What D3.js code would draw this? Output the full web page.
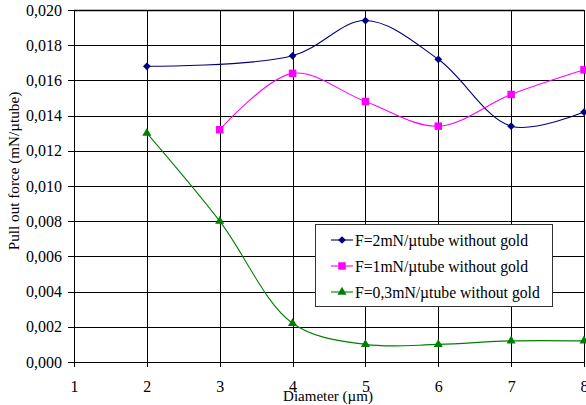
<!DOCTYPE html>
<html>
<head>
<meta charset="utf-8">
<script src="https://cdn.jsdelivr.net/npm/d3@7"></script>
<style>
    body { margin: 0; background: #fff; }
    .grid line { stroke: #000; stroke-width: 1; shape-rendering: crispEdges; }
    .axis path, .axis line { stroke: #000; shape-rendering: crispEdges; }
</style>
</head>
<body>
<div id="chart"></div>
<script>
// data
let diameters = [1, 2, 3, 4, 5, 6, 7, 8];
let yTicks = [0, 0.002, 0.004, 0.006, 0.008, 0.010, 0.012, 0.014, 0.016, 0.018, 0.020];

let blueX = [2, 4, 5, 6, 7, 8];
let blueY = [0.0168, 0.0174, 0.0194, 0.0172, 0.0134, 0.0142];

let pinkX = [3, 4, 5, 6, 7, 8];
let pinkY = [0.0132, 0.0164, 0.0148, 0.0134, 0.0152, 0.0166];

let greenX = [2, 3, 4, 5, 6, 7, 8];
let greenY = [0.0130, 0.0080, 0.0022, 0.0010, 0.0010, 0.0012, 0.0012];

let seriesNames = ["F=2mN/\u00b5tube without gold", "F=1mN/\u00b5tube without gold", "F=0,3mN/\u00b5tube without gold"];

// rotate square 45deg for the Excel-like diamond
let series = [
    { name: seriesNames[0], color: "#000080", shape: d3.symbolSquare, size: 30, rot: 45, xs: blueX, ys: blueY },
    { name: seriesNames[1], color: "#FF00FF", shape: d3.symbolSquare, size: 56, rot: 0, xs: pinkX, ys: pinkY },
    { name: seriesNames[2], color: "#008000", shape: d3.symbolTriangle, size: 36, rot: 0, xs: greenX, ys: greenY }
];

const FONT = "'Liberation Serif', 'Times New Roman', serif";

let margin = { top: 10, right: 2, bottom: 43, left: 74 };
let width = 586 - margin.left - margin.right;
let height = 405 - margin.top - margin.bottom;

let svg = d3.select("#chart").append("svg")
    .attr("width", 586)
    .attr("height", 405)
    .style("font-family", FONT);

let g = svg.append("g")
    .attr("transform", "translate(" + margin.left + "," + margin.top + ")");

let x = d3.scaleLinear().domain([1, 8]).range([0, width]);
let y = d3.scaleLinear().domain([0, 0.02]).range([height, 0]);

let fmt = d => d3.format(".3f")(d).replace(".", ",");

// gridlines
let grid = g.append("g").attr("class", "grid");
grid.selectAll(".h").data(yTicks).enter().append("line")
    .attr("x1", 0).attr("x2", width)
    .attr("y1", d => Math.round(y(d)) + 0.5).attr("y2", d => Math.round(y(d)) + 0.5);
grid.selectAll(".v").data(diameters).enter().append("line")
    .attr("y1", 0).attr("y2", height)
    .attr("x1", d => Math.round(x(d)) + 0.5).attr("x2", d => Math.round(x(d)) + 0.5);

// axes
let yAxis = d3.axisLeft(y).tickValues(yTicks).tickFormat(fmt).tickSize(6).tickPadding(6);
let xAxis = d3.axisBottom(x).tickValues(diameters).tickFormat(d3.format("d")).tickSize(5).tickPadding(14);

g.append("g").attr("class", "y-axis axis").call(yAxis)
    .attr("font-family", null)
    .call(a => a.select(".domain").remove())
    .selectAll("text").style("font-family", FONT).style("font-size", "16px").attr("fill", "#000");
g.append("g").attr("class", "x-axis axis")
    .attr("transform", "translate(0," + height + ")")
    .call(xAxis)
    .attr("font-family", null)
    .call(a => a.select(".domain").remove())
    .selectAll("text").style("font-family", FONT).style("font-size", "16px").attr("fill", "#000");

// axis titles
svg.append("text")
    .attr("transform", "translate(19,171) rotate(-90)")
    .attr("text-anchor", "middle")
    .style("font-family", FONT)
    .style("font-size", "15.2px")
    .text("Pull out force (mN/\u00b5tube)");

svg.append("text")
    .attr("x", 328).attr("y", 401)
    .attr("text-anchor", "middle")
    .style("font-family", FONT)
    .style("font-size", "15px")
    .text("Diameter (\u00b5m)");

// smoothed lines (Excel style)
let line = d3.line()
    .x(d => x(d[0]))
    .y(d => y(d[1]))
    .curve(d3.curveCatmullRom.alpha(0.5));

series.forEach(s => {
    let pts = s.xs.map((v, i) => [v, s.ys[i]]);
    g.append("path")
        .datum(pts)
        .attr("fill", "none")
        .attr("stroke", s.color)
        .attr("stroke-width", 1.1)
        .attr("d", line);
    g.selectAll(null).data(pts).enter().append("path")
        .attr("d", d3.symbol().type(s.shape).size(s.size))
        .attr("transform", d => "translate(" + x(d[0]) + "," + y(d[1]) + ") rotate(" + s.rot + ")")
        .attr("fill", s.color);
});

// legend
let legend = svg.append("g").attr("transform", "translate(315.5,224.5)");
legend.append("rect")
    .attr("width", 237).attr("height", 82)
    .attr("fill", "#fff").attr("stroke", "#333");
series.forEach((s, i) => {
    let ly = 15.5 + i * 26;
    legend.append("line")
        .attr("x1", 15.5).attr("x2", 37.5).attr("y1", ly).attr("y2", ly)
        .attr("stroke", s.color).attr("stroke-width", 1.1);
    legend.append("path")
        .attr("d", d3.symbol().type(s.shape).size(s.size))
        .attr("transform", "translate(26.5," + ly + ") rotate(" + s.rot + ")")
        .attr("fill", s.color);
    legend.append("text")
        .attr("x", 39.5).attr("y", ly + 5.5)
        .style("font-family", FONT)
        .style("font-size", "15.7px")
        .text(s.name);
});

// top border of plot area
g.append("line").attr("x1", 0).attr("x2", width).attr("y1", 0.5).attr("y2", 0.5)
    .attr("stroke", "#000").attr("stroke-width", 1.5);
</script>
</body>
</html>
